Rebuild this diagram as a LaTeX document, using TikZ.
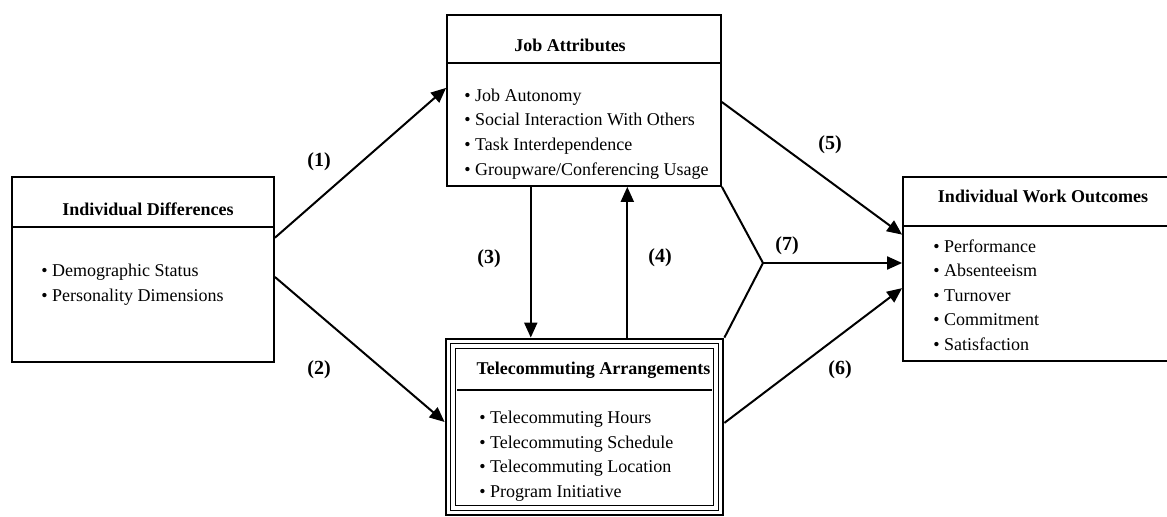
\documentclass[tikz,border=0pt]{standalone}
\usepackage{fontspec}
\setmainfont{Liberation Serif}
\usetikzlibrary{arrows.meta,calc,positioning}

\tikzset{
  box/.style={draw, line width=0.9pt, inner sep=0pt},
  head/.style={font=\fontsize{9}{11}\selectfont\bfseries, inner sep=0pt},
  items/.style={font=\fontsize{9}{12.3}\selectfont, align=left, anchor=west, inner sep=0pt},
  link/.style={line width=1pt, -{Triangle[length=7.5pt,width=6.5pt]}},
  num/.style={font=\fontsize{10}{12}\selectfont\bfseries, inner sep=0pt}
}

\begin{document}
\begin{tikzpicture}[x=0.5pt, y=-0.5pt]
    \useasboundingbox (0,0) rectangle (1167,517);

    % Individual differences
    \node[box, minimum width=131pt, minimum height=92.5pt] (diff) at (143,269.5) {};
    \draw[line width=0.9pt] (diff.west |- 0,227) -- (diff.east |- 0,227);
    \node[head] (diffhead) at (148,209) {Individual Differences};
    \node[items] (difflist) at (41,284.5) {• Demographic Status\\• Personality Dimensions};

    % Job attributes
    \node[box, minimum width=137pt, minimum height=85.5pt] (job) at (584,100.5) {};
    \draw[line width=0.9pt] (job.west |- 0,63) -- (job.east |- 0,63);
    \node[head] (jobhead) at (570,45) {Job Attributes};
    \node[items] (joblist) at (464,134) {• Job Autonomy\\• Social Interaction With Others\\• Task Interdependence\\• Groupware/Conferencing Usage};

    % Telecommuting arrangements (framed three times)
    \node[box, line width=1.4pt, minimum width=138.5pt, minimum height=88pt] (tele) at (584.5,427) {};
    \draw[line width=0.6pt] ([shift={(6,6)}]tele.north west) rectangle ([shift={(-6,-6)}]tele.south east);
    \draw[line width=0.7pt] ([shift={(11,11)}]tele.north west) rectangle ([shift={(-11,-11)}]tele.south east);
    \draw[line width=0.9pt] (457,390) -- (712,390);
    \node[head] (telehead) at (593.5,370) {Telecommuting Arrangements};
    \node[items] (telelist) at (479,456) {• Telecommuting Hours\\• Telecommuting Schedule\\• Telecommuting Location\\• Program Initiative};

    % Individual work outcomes
    \node[box, minimum width=134.5pt, minimum height=92pt] (iwo) at (1037.5,269) {};
    \draw[line width=0.9pt] (iwo.west |- 0,226) -- (iwo.east |- 0,226);
    \node[head] (iwohead) at (1043,196) {Individual Work Outcomes};
    \node[items] (iwolist) at (933,295) {• Performance\\• Absenteeism\\• Turnover\\• Commitment\\• Satisfaction};

    % Paths (1) and (2)
    \draw[link] ($(diff.north east)!0.33!(diff.south east)$) -- ($(job.north west)!0.427!(job.south west)$);
    \draw[link] ($(diff.north east)!0.54!(diff.south east)$) -- ($(tele.north west)!0.472!(tele.south west)$);
    \node[num] (n1) at (319,162) {(1)};
    \node[num] (n2) at (319,370) {(2)};

    % Paths (3) and (4)
    \coordinate (down) at ($(job.south west)!0.307!(job.south east)$);
    \coordinate (up) at ($(tele.north west)!0.653!(tele.north east)$);
    \draw[link] (down) -- (down |- tele.north);
    \draw[link] (up) -- (up |- job.south);
    \node[num] (n3) at (489,259) {(3)};
    \node[num] (n4) at (660,258) {(4)};

    % Paths (5), (6) and the joint path (7)
    \draw[link] ($(job.north east)!0.509!(job.south east)$) -- ($(iwo.north west)!0.315!(iwo.south west)$);
    \draw[link] ($(tele.north east)!0.477!(tele.south east)$) -- ($(iwo.north west)!0.603!(iwo.south west)$);
    \coordinate (join) at (763,263);
    \draw[line width=1pt] (job.south east) -- (join) -- (tele.north east);
    \draw[link] (join) -- (join -| iwo.west);
    \node[num] (n5) at (830,145) {(5)};
    \node[num] (n6) at (840,370) {(6)};
    \node[num] (n7) at (787,246) {(7)};
\end{tikzpicture}
\end{document}
